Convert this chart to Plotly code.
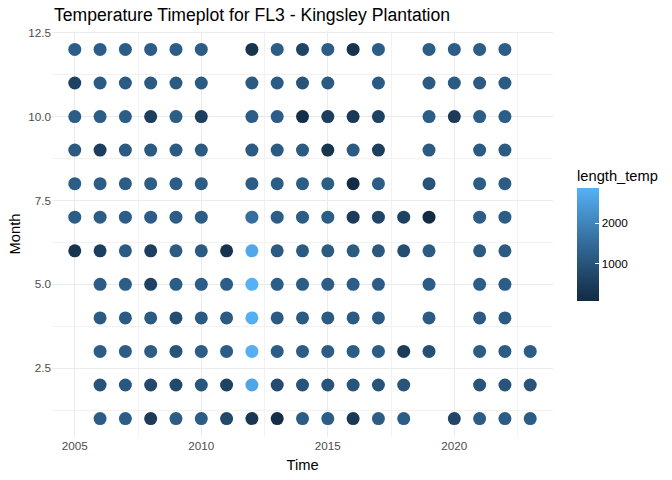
import plotly.graph_objects as go

# Years on x, one list per month (None = no data that month)
years = [2005, 2006, 2007, 2008, 2009, 2010, 2011, 2012, 2013, 2014,
         2015, 2016, 2017, 2018, 2019, 2020, 2021, 2022, 2023]

jan = [None, 1190, 1190, 450, 1190, 1190, 750, 350, 150, 1190,
       1190, 400, 1190, 1190, None, 700, 1190, 1190, 1190]
feb = [None, 1000, 1075, 750, 750, 1050, 600, 2650, 800, 1000,
       1000, 1000, 1000, 1000, None, None, 1000, 1000, 1000]
mar = [None, 1190, 1190, 1190, 1000, 1190, 1190, 2850, 1190, 1190,
       1190, 1190, 1190, 450, 900, None, 1190, 1190, 1190]
apr = [None, 1150, 1150, 1150, 850, 1150, 1150, 2850, 1150, 1150,
       1150, 1150, 1150, None, 1150, None, 1150, 1150, None]
may = [None, 1190, 1190, 600, 1190, 1190, 1190, 2880, 1190, 1190,
       1190, 1190, 1190, None, 1190, None, 1190, 1190, None]
jun = [250, 550, 1150, 550, 1150, 1150, 250, 2700, 1150, 1150,
       1150, 1150, 1080, 850, 1150, None, 1150, 1150, None]
jul = [1190, 1190, 1190, 1190, 1190, 1190, None, 1550, 1190, 1190,
       1190, 450, 650, 600, 70, None, 1190, 1190, None]
aug = [1190, 1190, 1190, 1190, 1190, 1190, None, 1190, 1190, 1190,
       1190, 120, 1190, None, 1000, None, 1190, 1190, None]
sep = [1150, 500, 1150, 1150, 1150, 1150, None, 1150, 1150, 1150,
       300, 1150, 550, None, 1150, None, 1150, 1150, None]
oct_ = [1190, 1190, 1190, 500, 1190, 550, None, 1190, 1190, 150,
        500, 400, 600, None, 1190, 450, 1190, 1190, None]
nov = [600, 1150, 1150, 1150, 1150, 1150, None, 1150, 1150, 1000,
       1150, None, 1150, None, 1150, 1150, 1150, 1150, None]
dec = [1190, 1190, 1190, 1190, 1190, 1190, None, 300, 1190, 650,
       1190, 250, 1190, None, 1190, 1190, 1190, 1190, None]

rows = [jan, feb, mar, apr, may, jun, jul, aug, sep, oct_, nov, dec]

x, y, c = [], [], []
for m, row in enumerate(rows, start=1):
    for yr, v in zip(years, row):
        if v is not None:
            x.append(yr)
            y.append(m)
            c.append(v)


# ggplot2 default gradient (#132B43 -> #56B1F7) interpolated in Lab
def hex_to_lab(h):
    rgb = [int(h[i:i + 2], 16) / 255 for i in (1, 3, 5)]
    lin = [((v + 0.055) / 1.055) ** 2.4 if v > 0.04045 else v / 12.92 for v in rgb]
    X = (0.4124 * lin[0] + 0.3576 * lin[1] + 0.1805 * lin[2]) / 0.95047
    Y = 0.2126 * lin[0] + 0.7152 * lin[1] + 0.0722 * lin[2]
    Z = (0.0193 * lin[0] + 0.1192 * lin[1] + 0.9505 * lin[2]) / 1.08883
    f = lambda t: t ** (1 / 3) if t > 0.008856 else 7.787 * t + 16 / 116
    return 116 * f(Y) - 16, 500 * (f(X) - f(Y)), 200 * (f(Y) - f(Z))


def lab_to_hex(L, a, b):
    fy = (L + 16) / 116
    fx = fy + a / 500
    fz = fy - b / 200
    g = lambda t: t ** 3 if t ** 3 > 0.008856 else (t - 16 / 116) / 7.787
    X, Y, Z = g(fx) * 0.95047, g(fy), g(fz) * 1.08883
    lin = [3.2406 * X - 1.5372 * Y - 0.4986 * Z,
           -0.9689 * X + 1.8758 * Y + 0.0415 * Z,
           0.0557 * X - 0.2040 * Y + 1.0570 * Z]
    out = []
    for v in lin:
        v = max(0, min(1, v))
        v = 1.055 * v ** (1 / 2.4) - 0.055 if v > 0.0031308 else 12.92 * v
        out.append(round(v * 255))
    return "#%02X%02X%02X" % tuple(out)


lo, hi = hex_to_lab("#132B43"), hex_to_lab("#56B1F7")
scale = []
for i in range(11):
    t = i / 10
    scale.append([t, lab_to_hex(*[lo[k] + (hi[k] - lo[k]) * t for k in range(3)])])

fig = go.Figure()
fig.add_trace(go.Scatter(
    x=x, y=y, mode="markers",
    marker=dict(size=13, color=c, colorscale=scale, showscale=True,
                colorbar=dict(
                    title=dict(text="length_temp", side="top",
                               font=dict(size=14.7, color="black")),
                    thickness=22, len=134, lenmode="pixels",
                    x=1.048, xanchor="left", xpad=0,
                    y=0.50, yanchor="middle", ypad=0,
                    tickvals=[1000, 2000], ticks="inside", ticklen=4,
                    tickcolor="white", outlinewidth=0,
                    tickfont=dict(size=11.7, color="black"))),
    showlegend=False,
))

fig.update_layout(
    width=672, height=480,
    margin=dict(l=52, r=119, t=31, b=43),
    paper_bgcolor="white", plot_bgcolor="white",
    font=dict(family="Liberation Sans, Arial, sans-serif", color="black"),
    title=dict(text="Temperature Timeplot for FL3 - Kingsley Plantation",
               x=54 / 672, xanchor="left", y=1 - 15 / 480, yanchor="middle",
               font=dict(size=17.6, color="black")),
    xaxis=dict(title=dict(text="Time", font=dict(size=14.7), standoff=9),
               range=[2004.1, 2023.9], tickvals=[2005, 2010, 2015, 2020],
               showgrid=True, gridcolor="#EBEBEB", gridwidth=1.1,
               minor=dict(tick0=2002.5, dtick=5, showgrid=True,
                          gridcolor="#F2F2F2", gridwidth=0.6),
               zeroline=False, showline=False, ticks="", automargin=False,
               tickfont=dict(size=11.7, color="#4D4D4D")),
    yaxis=dict(title=dict(text="Month", font=dict(size=14.7), standoff=4),
               range=[0.45, 12.55], tickvals=[2.5, 5, 7.5, 10, 12.5],
               ticktext=["2.5", "5.0", "7.5", "10.0", "12.5"],
               showgrid=True, gridcolor="#EBEBEB", gridwidth=1.1,
               minor=dict(tick0=1.25, dtick=2.5, showgrid=True,
                          gridcolor="#F2F2F2", gridwidth=0.6),
               zeroline=False, showline=False, ticks="", automargin=False,
               tickfont=dict(size=11.7, color="#4D4D4D")),
)

# drop the browser's default page margin so the figure sits at (0, 0)
fig.write_html("out.html", config={"displayModeBar": False},
               post_script="document.body.style.margin='0';")
